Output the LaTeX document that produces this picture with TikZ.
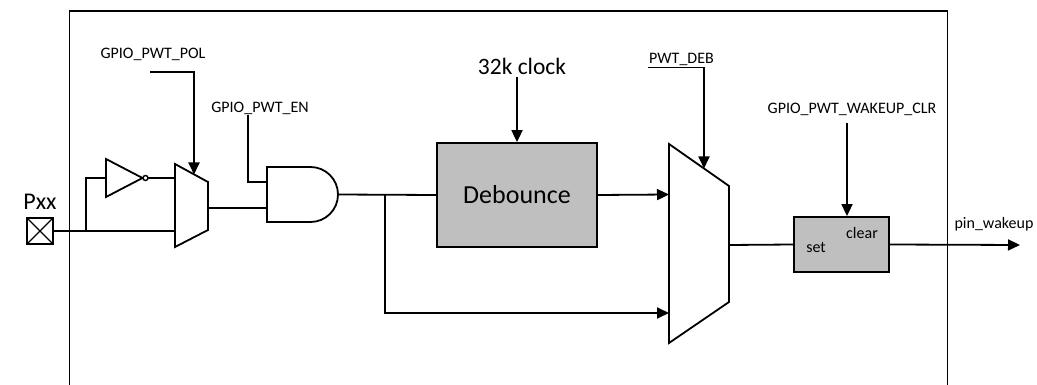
\documentclass[tikz,border=0pt]{standalone}
\usepackage{fontspec}
\setmainfont{Carlito}
\usetikzlibrary{arrows.meta}
\definecolor{boxgray}{RGB}{191,191,191}
\tikzset{
  wire/.style={line width=1.8pt},
  arr/.style={wire,-{Triangle[length=12pt,width=11pt]}},
  lbl/.style={font=\fontsize{16}{18}\selectfont, inner sep=0pt},
  graybox/.style={draw, fill=boxgray, line width=1.8pt, inner sep=0pt},
  gateshape/.style={line width=1.8pt, line join=miter}
}
\begin{document}
\begin{tikzpicture}[x=1pt,y=-1pt]
\useasboundingbox (0,0) rectangle (1037,385);
% frame
\draw[wire] (69.5,386) -- (69.5,11) -- (947.5,11) -- (947.5,386);
% pad
\node[draw, line width=1.8pt, minimum width=26pt, minimum height=26pt, inner sep=0pt,
  path picture={\draw[line width=1.2pt] (path picture bounding box.north west) -- (path picture bounding box.south east)
   (path picture bounding box.north east) -- (path picture bounding box.south west);}] (pad) at (40,231) {};
\node[font=\fontsize{24}{26}\selectfont, inner sep=0pt] (pxx) at (40,202) {Pxx};
% inverter
\draw[gateshape] (106,159) -- (106,197) -- (142.5,178) -- cycle;
\draw[line width=1.4pt] (145.5,178) circle[radius=2.5pt];
\coordinate (invin) at (106,178);
\coordinate (invout) at (148,178);
% mux 1
\draw[gateshape] (175,164) -- (208,182) -- (208,230) -- (175,247) -- cycle;
\coordinate (m1a) at (175,178);
\coordinate (m1b) at (175,231);
\coordinate (m1o) at (208,208);
\coordinate (m1s) at (194,174.5);
% and gate
\draw[gateshape] (267,167) -- (310.5,167) arc[start angle=90, end angle=-90, radius=27.5pt] -- (267,222) -- cycle;
\coordinate (a1) at (267,182);
\coordinate (a2) at (267,208);
\coordinate (ao) at (338,194.5);
% debounce
\node[graybox, minimum width=160pt, minimum height=104pt, font=\fontsize{26}{28}\selectfont] (deb) at (517,195) {Debounce};
% mux 2
\draw[gateshape] (669,144) -- (729,186) -- (729,302) -- (669,343) -- cycle;
\coordinate (m2a) at (669,194.5);
\coordinate (m2b) at (669,313);
\coordinate (m2o) at (729,245);
\coordinate (m2s) at (704,168.5);
% flip-flop
\node[graybox, minimum width=95pt, minimum height=55pt] (ff) at (841.5,244.5) {};
\node[lbl] (clr) at (862,233) {clear};
\node[lbl] (set) at (816,247) {set};
% labels
\node[lbl] (pol) at (153,54) {GPIO\_PWT\_POL};
\node[lbl] (en) at (260,108) {GPIO\_PWT\_EN};
\node[font=\fontsize{23.5}{25}\selectfont, inner sep=0pt] (clk) at (522,66) {32k clock};
\node[lbl, anchor=base west] (pdeb) at (649,64) {PWT\_DEB};
\node[lbl] (wclr) at (852,109) {GPIO\_PWT\_WAKEUP\_CLR};
\node[lbl] (wk) at (994,224) {pin\_wakeup};
% coordinates for free ends
\coordinate (br1) at (86,231);
\coordinate (br2) at (385,194.5);
\coordinate (polstart) at (150,72);
\coordinate (enstart) at (248,115);
\coordinate (clkstart) at (517,77);
\coordinate (debstart) at (648,67.5);
\coordinate (clrstart) at (847,123);
\coordinate (wout) at (1020,245);
% wires
\draw[wire] (pad.east) -- (m1b);
\draw[wire] (br1) |- (invin);
\draw[wire] (invout) -- (m1a);
\draw[arr] (polstart) -| (m1s);
\draw[wire] (enstart) |- (a1);
\draw[wire] (m1o) -- (a2);
\draw[wire] (ao) -- (deb.west);
\draw[arr] (br2) |- (m2b);
\draw[arr] (deb.east) -- (m2a);
\draw[arr] (clkstart) -- (deb.north);
\draw[arr] (debstart) -| (m2s);
\draw[wire] (m2o) -- (ff.west);
\draw[arr] (clrstart) -- (clrstart |- ff.north);
\draw[arr] (ff.east) -- (wout);
\end{tikzpicture}
\end{document}
